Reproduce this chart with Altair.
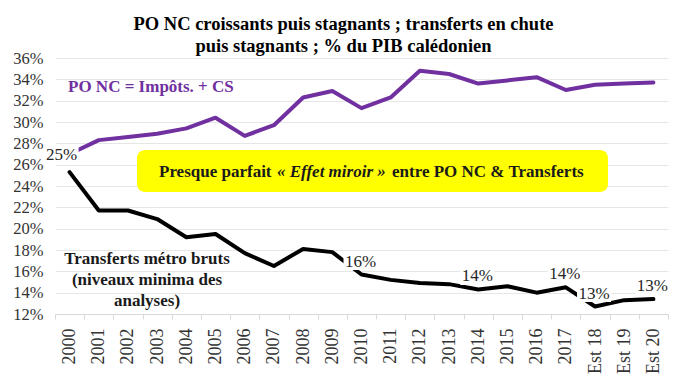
import altair as alt
import pandas as pd

years = ["2000", "2001", "2002", "2003", "2004", "2005", "2006", "2007", "2008", "2009",
         "2010", "2011", "2012", "2013", "2014", "2015", "2016", "2017", "Est 18", "Est 19", "Est 20"]
po_nc = [27.0, 28.3, 28.6, 28.9, 29.4, 30.4, 28.7, 29.7, 32.3, 32.9,
         31.3, 32.3, 34.8, 34.5, 33.6, 33.9, 34.2, 33.0, 33.5, 33.6, 33.7]
transferts = [25.3, 21.7, 21.7, 20.9, 19.2, 19.5, 17.7, 16.5, 18.1, 17.8,
              15.7, 15.2, 14.9, 14.8, 14.3, 14.6, 14.0, 14.5, 12.7, 13.3, 13.4]
series_names = ["PO NC", "Transferts"]
series_colors = ["#7030A0", "#000000"]
label_years = ["2000", "2010", "2014", "2017", "Est 18", "Est 20"]
label_texts = ["25%", "16%", "14%", "14%", "13%", "13%"]
y_ticks = list(range(12, 37, 2))

SERIF = "Liberation Serif"

df = pd.DataFrame({
    "year": years * 2,
    "value": po_nc + transferts,
    "series": [series_names[0]] * len(years) + [series_names[1]] * len(years),
})
tr = pd.DataFrame({"year": years, "value": transferts})
lab = tr[tr["year"].isin(label_years)].copy()
lab["label"] = label_texts
lab_a = lab[lab["year"] == "2000"]
lab_b = lab[lab["year"] != "2000"]
one = pd.DataFrame({"k": [0]})

x_enc = alt.X(
    "year:N", sort=years, title=None, bandPosition=0.5,
    scale=alt.Scale(type="band", paddingInner=0, paddingOuter=0),
    axis=alt.Axis(labelAngle=270, labelFont=SERIF, labelFontSize=18, labelColor="#333333",
                  tickBand="extent", ticks=True, tickSize=5, tickColor="#d9d9d9",
                  domain=True, domainColor="#d9d9d9", grid=False, labelPadding=9,
                  labelOverlap=False),
)
y_enc = alt.Y(
    "value:Q", title=None,
    scale=alt.Scale(domain=[12, 36], nice=False, zero=False),
    axis=alt.Axis(values=y_ticks, labelExpr="datum.value + '%'", labelFont=SERIF,
                  labelFontSize=16.5, labelColor="#333333", grid=True, gridColor="#e6e6e6",
                  domain=False, ticks=False, labelPadding=12, labelOverlap=False),
)

box = alt.Chart(one).mark_rect(color="#FFFF00", cornerRadius=8).encode(
    x=alt.value(82), x2=alt.value(553), y=alt.value(92), y2=alt.value(134)
)

lines = alt.Chart(df).mark_line(strokeWidth=4, strokeJoin="round", strokeCap="round").encode(
    x=x_enc, y=y_enc,
    color=alt.Color("series:N", scale=alt.Scale(domain=series_names, range=series_colors), legend=None),
    detail="series:N",
)

LABEL_SHAPE = "M-1,-0.5H1V0.5H-1Z"

def label_layers(data, dx, dy):
    bg = alt.Chart(data).mark_point(
        shape=LABEL_SHAPE, filled=True, fill="white", color="white", opacity=1,
        strokeWidth=0, size=1156, xOffset=dx, yOffset=dy
    ).encode(x=x_enc, y=y_enc)
    txt = alt.Chart(data).mark_text(
        font=SERIF, fontSize=17, color="#262626", dx=dx, dy=dy
    ).encode(x=x_enc, y=y_enc, text="label:N")
    return [bg, txt]

po_label = alt.Chart(one).mark_text(
    font=SERIF, fontSize=17, fontWeight="bold", color="#7030A0", align="left", baseline="middle"
).encode(x=alt.value(13), y=alt.value(29), text=alt.value("PO NC = Impôts. + CS"))

t1 = alt.Chart(one).mark_text(
    font=SERIF, fontSize=17, fontWeight="bold", color="#1a1a1a", align="left", baseline="middle"
).encode(x=alt.value(104), y=alt.value(114), text=alt.value("Presque parfait"))
t2 = alt.Chart(one).mark_text(
    font=SERIF, fontSize=17, fontWeight="bold", fontStyle="italic", color="#1a1a1a",
    align="left", baseline="middle"
).encode(x=alt.value(222), y=alt.value(114), text=alt.value("« Effet miroir »"))
t3 = alt.Chart(one).mark_text(
    font=SERIF, fontSize=17, fontWeight="bold", color="#1a1a1a", align="left", baseline="middle"
).encode(x=alt.value(337), y=alt.value(114), text=alt.value("entre PO NC & Transferts"))

tr_label = alt.Chart(one).mark_text(
    font=SERIF, fontSize=17, fontWeight="bold", color="#1a1a1a", align="center",
    baseline="middle", lineHeight=21
).encode(x=alt.value(92), y=alt.value(201),
         text=alt.value(["Transferts métro bruts", "(niveaux minima des", "analyses)"]))

layers = [box, lines] + label_layers(lab_a, -8, -17) + label_layers(lab_b, -1, -13) + \
    [po_label, t1, t2, t3, tr_label]

chart = alt.layer(*layers).properties(
    width=613, height=256,
    title=alt.Title(["PO NC croissants puis stagnants ; transferts en chute",
                     "puis stagnants ; % du PIB calédonien"],
                    font=SERIF, fontSize=18.5, fontWeight="bold", color="#000000",
                    anchor="middle", dx=-18, dy=9, offset=4, lineHeight=22),
    autosize=alt.AutoSizeParams(type="none"),
    padding={"left": 47, "top": 50, "right": 4, "bottom": 63},
    background="white",
).configure_view(stroke=None)

chart.save("out.html", embed_options={"renderer": "svg", "actions": False})
